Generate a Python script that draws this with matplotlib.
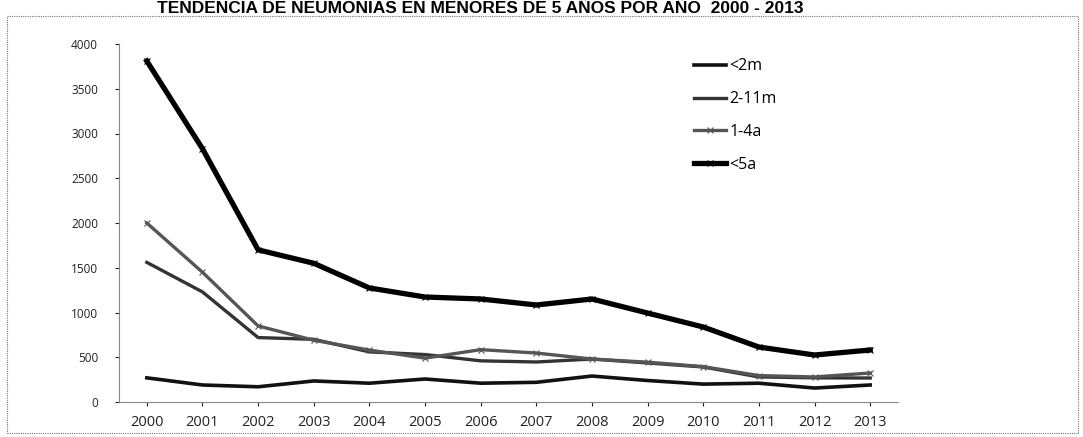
import numpy as np
import matplotlib.pyplot as plt
from matplotlib.patches import Rectangle

years = list(range(2000, 2014))
menor_2m = [270, 190, 170, 235, 210, 257, 210, 220, 290, 240, 200, 210, 156, 190]
m2_11 = [1560, 1230, 720, 700, 560, 530, 460, 447, 480, 436, 391, 280, 270, 268]
a1_4 = [2000, 1450, 850, 690, 580, 490, 585, 547, 480, 445, 395, 295, 280, 324]
menor_5a = [3810, 2830, 1700, 1550, 1274, 1173, 1151, 1084, 1151, 994, 838, 614, 525, 581]

title = "TENDENCIA DE NEUMONIAS EN MENORES DE 5 AÑOS POR AÑO  2000 - 2013"

W, H = 1083, 437
fig = plt.figure(figsize=(W / 100, H / 100), dpi=100)
ax = fig.add_axes([119 / W, 1 - 402 / H, (898 - 119) / W, (402 - 44) / H])

x = np.arange(len(years))
ax.plot(x, menor_2m, color="#111111", lw=2.6, label="<2m")
ax.plot(x, m2_11, color="#333333", lw=2.4, label="2-11m")
ax.plot(x, a1_4, color="#555555", lw=2.4, marker="x", ms=4, mew=0.8, label="1-4a")
ax.plot(x, menor_5a, color="#000000", lw=3.8, marker="x", ms=5, mew=0.8, label="<5a")

ax.set_xlim(-0.5, len(years) - 0.5)
ax.set_ylim(0, 4000)
ax.set_yticks(range(0, 4001, 500))
ax.set_xticks(x)
ax.set_xticklabels([str(y) for y in years])
ax.tick_params(axis="x", length=3, labelsize=10.5, pad=6, colors="#222222")
ax.tick_params(axis="y", length=3, labelsize=8.5, pad=12, colors="#222222")
for lab in ax.get_xticklabels() + ax.get_yticklabels():
    lab.set_fontfamily("Open Sans")

for s in ["top", "right"]:
    ax.spines[s].set_visible(False)
for s in ["left", "bottom"]:
    ax.spines[s].set_color("#888888")
    ax.spines[s].set_linewidth(0.8)
    ax.spines[s].set_linestyle((0, (1, 1)))

leg = ax.legend(loc="upper left", bbox_to_anchor=(0.72, 1.0), frameon=False,
                prop={"family": "Open Sans", "size": 11.5}, handlelength=2.0,
                handletextpad=0.2, labelspacing=1.05)

# title sits just above the outer frame
fig.text(480 / W, 1 - 13 / H, title, ha="center", va="baseline",
         fontsize=12.5, fontweight="bold", family="Liberation Sans")

fig.patches.append(Rectangle((7 / W, 1 - 433 / H), (1078 - 7) / W, (433 - 16) / H,
                             transform=fig.transFigure, fill=False,
                             edgecolor="#777777", lw=0.8, linestyle=(0, (1, 1))))

fig.savefig("out.png", dpi=100)
